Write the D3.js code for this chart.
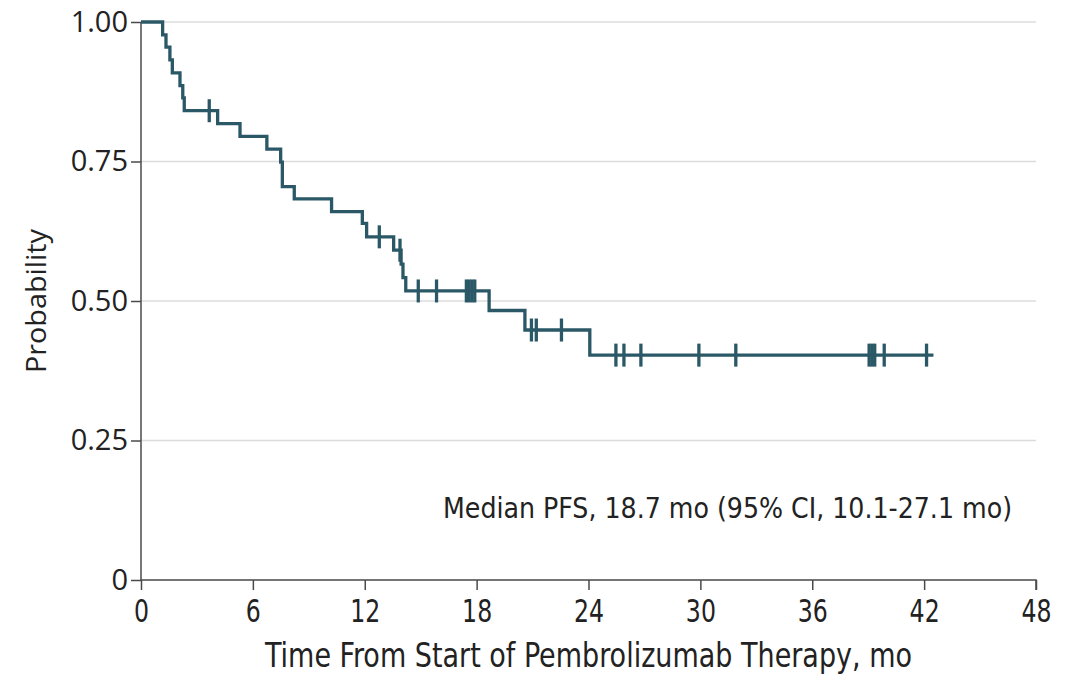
<!DOCTYPE html>
<html>
<head>
<meta charset="utf-8">
<script src="https://cdn.jsdelivr.net/npm/d3@7"></script>
<style>
  body { margin: 0; background: #fff; }
  .narrow { font-family: "DejaVu Sans Condensed", "Liberation Sans Narrow", "Roboto", sans-serif; }
</style>
</head>
<body>
<div id="chart-area"></div>
<script>
// step times (mo) and survival after each drop
var stepTimes = [0, 1.16, 1.34, 1.55, 1.68, 2.09, 2.24, 2.32, 4.11, 5.31, 6.75, 7.49, 7.58, 8.22, 10.22,
                 11.87, 12.10, 13.55, 13.95, 14.05, 14.20, 18.67, 20.59, 24.07];
var stepSurv  = [1.0, 0.977, 0.955, 0.932, 0.909, 0.886, 0.864, 0.841, 0.818, 0.795, 0.772, 0.749, 0.705, 0.683, 0.660,
                 0.639, 0.615, 0.591, 0.566, 0.542, 0.518, 0.483, 0.448, 0.403];
var endTime = 42.5;
// censored patients
var censorTimes = [3.66, 12.78, 13.89, 14.87, 15.85, 17.45, 17.6, 17.75, 17.9, 20.94, 21.2, 22.55,
                   25.47, 25.9, 26.81, 29.92, 31.9, 39.05, 39.2, 39.35, 39.86, 42.13];
var xTicks = [0, 6, 12, 18, 24, 30, 36, 42, 48];
var yTicks = [0, 0.25, 0.5, 0.75, 1.0];
var yTickLabels = ["0", "0.25", "0.50", "0.75", "1.00"];
var note = "Median PFS, 18.7 mo (95% CI, 10.1-27.1 mo)";

var margin = {top: 22, right: 37, bottom: 95, left: 141};
var width = 1073 - margin.left - margin.right;
var height = 675 - margin.top - margin.bottom;
var lineColor = "#2b5866";
var axisColor = "#4a4a4a";

var svg = d3.select("#chart-area").append("svg")
    .attr("width", 1073)
    .attr("height", 675);
var g = svg.append("g")
    .attr("transform", "translate(" + margin.left + "," + margin.top + ")");

var x = d3.scaleLinear().domain([0, 48]).range([0, width]);
var y = d3.scaleLinear().domain([0, 1]).range([height, 0]);

// grid lines
g.selectAll(".grid").data(yTicks.filter(function(d) { return d > 0; }))
  .enter().append("line")
    .attr("x1", 0).attr("x2", width)
    .attr("y1", function(d) { return y(d); })
    .attr("y2", function(d) { return y(d); })
    .attr("stroke", "#dcdcdc")
    .attr("stroke-width", 1.5);

// y axis
var yAxis = d3.axisLeft(y).tickValues(yTicks).tickSize(10).tickPadding(3)
    .tickFormat(function(d, i) { return yTickLabels[i]; });
var yg = g.append("g").call(yAxis);
yg.select(".domain").attr("stroke", axisColor).attr("stroke-width", 1.5).attr("d", "M0," + height + "V0");
yg.selectAll(".tick line").attr("stroke", axisColor).attr("stroke-width", 1.5);
yg.selectAll(".tick text")
    .attr("font-family", "'Open Sans', sans-serif")
    .attr("font-size", "29px")
    .attr("fill", "#222");

// x axis
var xAxis = d3.axisBottom(x).tickValues(xTicks).tickSize(10);
var xg = g.append("g").attr("transform", "translate(0," + height + ")").call(xAxis);
xg.select(".domain").attr("stroke", axisColor).attr("stroke-width", 1.5).attr("d", "M0,0H" + width + "V10");
xg.selectAll(".tick line").attr("stroke", axisColor).attr("stroke-width", 1.5);
xg.selectAll(".tick text")
    .attr("class", "narrow")
    .attr("y", 42)
    .attr("dy", 0)
    .attr("font-size", "32px")
    .attr("transform", "scale(0.82,1)")
    .attr("fill", "#222");

// axis titles
g.append("text")
    .attr("transform", "rotate(-90)")
    .attr("x", -y(0.5))
    .attr("y", -95)
    .attr("text-anchor", "middle")
    .attr("font-family", "'Open Sans', sans-serif")
    .attr("font-size", "27px")
    .attr("textLength", 144)
    .attr("lengthAdjust", "spacingAndGlyphs")
    .attr("fill", "#222")
    .text("Probability");

g.append("text")
    .attr("class", "narrow")
    .attr("x", 265 - margin.left)
    .attr("y", height + 87)
    .attr("font-size", "33px")
    .attr("textLength", 647)
    .attr("lengthAdjust", "spacingAndGlyphs")
    .attr("fill", "#222")
    .text("Time From Start of Pembrolizumab Therapy, mo");

// note
g.append("text")
    .attr("class", "narrow")
    .attr("x", 443 - margin.left)
    .attr("y", 518 - margin.top)
    .attr("font-size", "28px")
    .attr("textLength", 569)
    .attr("lengthAdjust", "spacingAndGlyphs")
    .attr("fill", "#222")
    .text(note);

// survival step curve
var pts = stepTimes.map(function(t, i) { return [t, stepSurv[i]]; });
pts.push([endTime, stepSurv[stepSurv.length - 1]]);
var line = d3.line()
    .x(function(d) { return x(d[0]); })
    .y(function(d) { return y(d[1]); })
    .curve(d3.curveStepAfter);
g.append("path")
    .datum(pts)
    .attr("fill", "none")
    .attr("stroke", lineColor)
    .attr("stroke-width", 3.3)
    .attr("d", line);

// censor marks
function survAt(t) {
  var s = 1;
  for (var i = 0; i < stepTimes.length; i++) { if (stepTimes[i] <= t) s = stepSurv[i]; }
  return s;
}
g.selectAll(".censor").data(censorTimes)
  .enter().append("line")
    .attr("x1", function(d) { return x(d); })
    .attr("x2", function(d) { return x(d); })
    .attr("y1", function(d) { return y(survAt(d)) - 11.5; })
    .attr("y2", function(d) { return y(survAt(d)) + 11.5; })
    .attr("stroke", lineColor)
    .attr("stroke-width", 3.3);
</script>
</body>
</html>
